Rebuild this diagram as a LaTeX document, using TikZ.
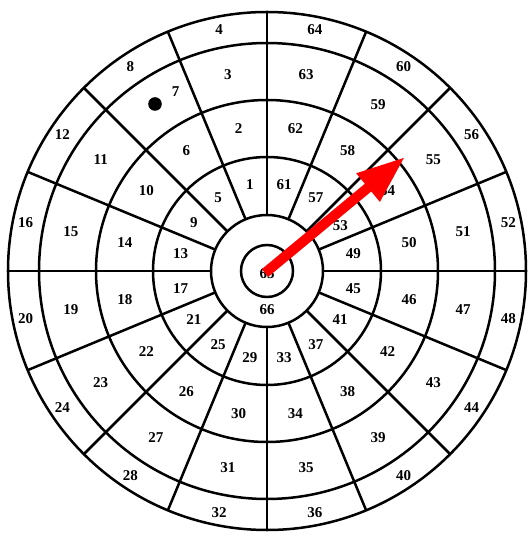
\documentclass[tikz,border=0pt]{standalone}
\usepackage{fontspec}
\setmainfont{Liberation Serif}
\usetikzlibrary{arrows.meta}

\begin{document}
\begin{tikzpicture}[x=1pt,y=1pt,
  ring/.style={draw=black,line width=2.5pt},
  spoke/.style={black,line width=2.5pt},
  lbl/.style={font=\fontsize{15}{15}\selectfont\bfseries,inner sep=0pt}]
  \useasboundingbox (-267,-266) rectangle (261,271);
  \coordinate (ctr) at (0,0);
  % rings and spokes
  \foreach \r in {26,56,114,171,228,259}
    \draw[ring] (ctr) circle (\r);
  \foreach \a in {0,22.5,...,337.5}
    \draw[spoke] (\a:56) -- (\a:259);
  % numbers, counter-clockwise from the top
  \foreach \k in {0,...,15}
    \foreach \j/\rr in {1/88,2/145,3/200,4/246}{
      \pgfmathtruncatemacro\lab{4*\k+\j}
      \pgfmathsetmacro\ang{101.25+22.5*\k}
      \ifnum\lab=7 \node[lbl] (n\lab) at (117:201) {\lab};
      \else\ifnum\lab=53 \node[lbl] (n\lab) at (31.5:86) {\lab};
      \else \node[lbl] (n\lab) at (\ang:\rr) {\lab};\fi\fi
    }
  \node[lbl] (n65) at (0,-3) {65};
  \node[lbl] (n66) at (0,-39) {66};
  % dart and arrow
  \fill[black] (-112,167) circle (6.8);
  \coordinate (tail) at (-2,-2);
  \coordinate (tip) at (138,114);
  \draw[red,line width=10pt,-{Triangle[length=48pt,width=34pt]}] (tail) -- (tip);
\end{tikzpicture}
\end{document}
